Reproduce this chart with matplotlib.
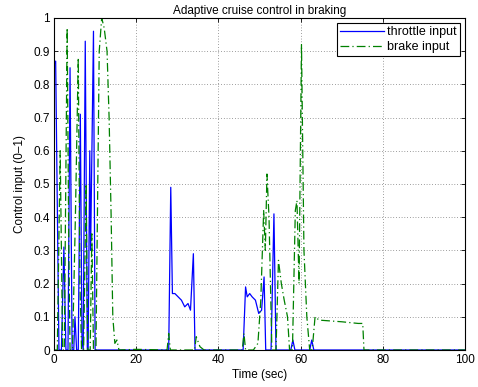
import numpy as np
import matplotlib
matplotlib.use("Agg")
import matplotlib.pyplot as plt

# ── DATA ──────────────────────────────────────────────────────────────────────
throttle_t = [0, 0.4, 1.2, 1.8, 2.4, 2.9, 3.4, 3.9, 4.4, 4.8, 5.1, 5.5, 5.9,
              6.4, 6.8, 7.1, 7.6, 8.1, 8.3, 8.7, 8.9, 9.6, 10.0, 20.0,
              27.9, 28.4, 28.8, 29.4, 30.2, 31.0, 31.8, 32.6, 33.2, 33.9,
              34.3, 40.0, 46.0, 46.6, 47.0, 47.6, 48.2, 49.0, 49.8, 50.5,
              51.1, 51.5, 51.9, 52.8, 53.5, 54.0, 57.6, 58.1, 58.6, 62.2,
              62.7, 63.2, 100.0]
throttle_u = [0.86, 0.87, 0, 0, 0.31, 0, 0, 0.85, 0, 0, 0.10, 0, 0,
              0.71, 0.03, 0, 0.93, 0, 0, 0.60, 0.30, 0.96, 0, 0,
              0, 0.49, 0.17, 0.17, 0.16, 0.15, 0.13, 0.14, 0.12, 0.29,
              0, 0, 0, 0.19, 0.16, 0.17, 0.16, 0.15, 0.11, 0.12,
              0.22, 0, 0, 0, 0.41, 0, 0, 0.03, 0, 0,
              0.03, 0, 0]

brake_t = [0, 0.8, 1.5, 2.1, 2.5, 3.2, 3.6, 3.9, 4.5, 5.2, 5.9, 6.3, 6.7,
           7.2, 7.8, 8.2, 8.8, 9.2, 9.6, 10.2, 11.0, 11.6, 12.2, 12.9, 13.4,
           13.9, 14.3, 14.8, 15.3, 15.8, 20.0, 27.5, 27.9, 28.3, 34.2, 34.6,
           35.5, 36.5, 45.8, 46.2, 46.6, 48.5, 49.6, 50.3, 51.0, 51.4, 51.8,
           52.3, 53.0, 54.0, 54.6, 55.3, 56.0, 56.8, 57.3, 58.0, 58.7, 59.1,
           59.6, 60.2, 60.8, 61.5, 62.2, 62.8, 63.5, 64.5, 70.0, 74.0, 75.1,
           75.4, 100.0]
brake_u = [0, 0, 0.60, 0, 0, 0.97, 0.30, 0, 0, 0.40, 0.88, 0.20, 0,
           0, 0.50, 0, 0, 0.35, 0, 0, 0.90, 1.0, 0.97, 0.90, 0.70,
           0.40, 0.10, 0.02, 0.03, 0, 0.002, 0, 0.05, 0, 0, 0.04,
           0.01, 0, 0, 0.05, 0, 0, 0.02, 0.15, 0.42, 0.30, 0.53,
           0.40, 0, 0, 0.27, 0.20, 0.15, 0.10, 0, 0, 0.42, 0.45,
           0.20, 0.92, 0.30, 0.10, 0, 0, 0.10, 0.09, 0.085, 0.08, 0.08,
           0, 0]

x_ticks = [0, 20, 40, 60, 80, 100]
y_ticks = [0, 0.1, 0.2, 0.3, 0.4, 0.5, 0.6, 0.7, 0.8, 0.9, 1]
y_tick_labels = ["0", "0.1", "0.2", "0.3", "0.4", "0.5", "0.6", "0.7", "0.8", "0.9", "1"]

# ── PLOT ──────────────────────────────────────────────────────────────────────
plt.rcParams["font.family"] = ["Liberation Sans", "DejaVu Sans"]
plt.rcParams["font.size"] = 8.5

fig = plt.figure(figsize=(4.78, 3.87), dpi=100)
ax = fig.add_axes([0.113, 0.0956, 0.86, 0.858])

ax.plot(throttle_t, throttle_u, color="blue", linewidth=0.9, label="throttle input")
ax.plot(brake_t, brake_u, color="#008000", linewidth=0.9,
        linestyle=(0, (7, 2.5, 1, 2.5)), label="brake input")

ax.set_xlim(0, 100)
ax.set_ylim(0, 1)
ax.set_xticks(x_ticks)
ax.set_yticks(y_ticks)
ax.set_yticklabels(y_tick_labels)
ax.tick_params(direction="in", length=3, width=0.6, top=True, right=True, pad=3)
ax.grid(True, linestyle=(0, (1, 3)), color="#444444", linewidth=0.5)
for s in ax.spines.values():
    s.set_linewidth(0.8)

ax.set_title("Adaptive cruise control in braking", fontsize=8.5, pad=3)
ax.set_xlabel("Time (sec)", fontsize=8.5, labelpad=2)
ax.set_ylabel("Control input (0\u20131)", fontsize=8.5, labelpad=5)

leg = ax.legend(loc="upper right", fontsize=9, fancybox=False, framealpha=1,
                edgecolor="black", borderaxespad=0.4, handlelength=3.5,
                handletextpad=0.3, borderpad=0.25, labelspacing=0.25)
leg.get_frame().set_linewidth(0.8)

fig.savefig("out.png", dpi=100)
